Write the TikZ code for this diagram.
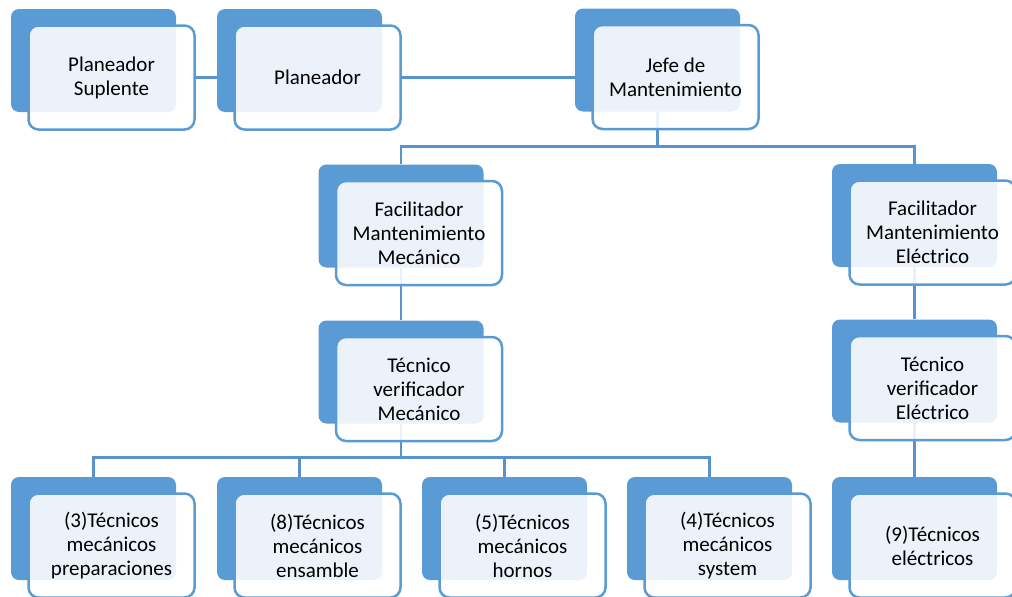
\documentclass[tikz,border=0pt]{standalone}
\usepackage{fontspec}
\setmainfont{Carlito}
\definecolor{boxblue}{HTML}{5B9BD5}
\definecolor{lineblue}{HTML}{5893CE}
\tikzset{
  backbox/.style={fill=boxblue,rounded corners=8pt,minimum width=165pt,minimum height=103pt,inner sep=0pt},
  frontbox/.style={draw=boxblue,line width=2.5pt,fill=white,fill opacity=.88,text opacity=1,
    rounded corners=10pt,minimum width=166pt,minimum height=104pt,inner sep=0pt,align=center,
    font=\fontsize{21}{24}\selectfont,text=black},
  link/.style={draw=lineblue,line width=2.5pt}
}
\begin{document}
\begin{tikzpicture}[x=1pt,y=-1pt]
  \useasboundingbox (0,0) rectangle (1012,597);
  % blue boxes at the back
  \foreach \name/\x/\y in {sup/93.5/60.5,plan/299.5/60.5,jefe/657.5/60,
      facM/401/216,facE/914.5/215.5,tvM/401/372,tvE/914.5/371,
      tA/93.5/528.5,tB/299.5/528.5,tC/504.5/528.5,tD/709.5/528.5,tE/914.5/528.5} {
    \node[backbox] (\name B) at (\x,\y) {};
  }
  % vertical links, seen through the front boxes
  \draw[link] (jefeB.south) -- ++(0,35) -| (facMB.north);
  \draw[link] (jefeB.south) -- ++(0,35) -| (facEB.north);
  \draw[link] (facMB.south) -- (tvMB.north);
  \draw[link] (facEB.south) -- (tvEB.north);
  \foreach \t in {tA,tB,tC,tD}
    \draw[link] (tvMB.south) -- ++(0,34) -| (\t B.north);
  \draw[link] (tvEB.south) -- (tEB.north);
  % front boxes with the texts
  \foreach \name/\txt in {sup/{Planeador\\Suplente},plan/{Planeador},jefe/{Jefe de\\Mantenimiento},
      facM/{Facilitador\\Mantenimiento\\Mecánico},facE/{Facilitador\\Mantenimiento\\Eléctrico},
      tvM/{Técnico\\verificador\\Mecánico},tvE/{Técnico\\verificador\\Eléctrico},
      tA/{(3)Técnicos\\mecánicos\\preparaciones},tB/{(8)Técnicos\\mecánicos\\ensamble},
      tC/{(5)Técnicos\\mecánicos\\hornos},tD/{(4)Técnicos\\mecánicos\\system},
      tE/{(9)Técnicos\\eléctricos}} {
    \node[frontbox] (\name F) at ([shift={(18,17)}]\name B.center) {\txt};
  }
  \draw[link] (supF.east) -- (supF.east -| planB.west);
  \draw[link] (planF.east) -- (planF.east -| jefeB.west);
\end{tikzpicture}
\end{document}
